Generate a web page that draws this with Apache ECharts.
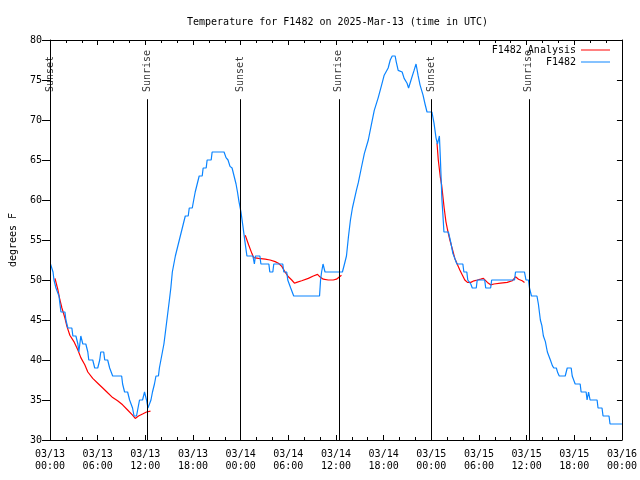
<!DOCTYPE html>
<html>
<head>
<meta charset="utf-8">
<script src="https://cdn.jsdelivr.net/npm/echarts@6/dist/echarts.min.js"></script>
<style>html,body{margin:0;padding:0;background:#fff}#c{width:640px;height:480px}</style>
</head>
<body>
<div id="c"></div>
<script>
// Hours since 2025-03-13 00:00 UTC
const startMonth = '03';
const startDay = 13;
const obsHours = [0.06,0.19,0.38,0.50,0.75,1.00,1.13,1.25,1.38,1.88,2.00,2.25,2.75,2.88,3.26,3.51,3.63,3.88,4.13,4.51,4.76,4.88,5.38,5.63,6.01,6.26,6.39,6.76,6.89,7.26,7.51,7.76,7.89,9.02,9.14,9.39,9.77,10.02,10.27,10.39,10.58,10.89,11.08,11.27,11.65,11.90,12.15,12.33,12.52,12.71,12.90,13.15,13.34,13.65,13.77,13.96,14.15,14.34,14.53,14.78,15.03,15.21,15.40,15.59,15.78,16.03,16.28,16.53,16.78,17.03,17.40,17.53,17.91,18.09,18.28,18.53,18.78,19.16,19.28,19.66,19.78,20.29,20.41,21.91,22.16,22.41,22.66,22.92,23.17,23.42,23.60,23.79,24.04,24.29,24.54,24.79,25.54,25.73,25.86,26.42,26.55,27.55,27.67,28.05,28.17,29.30,29.43,29.80,29.93,30.18,30.30,30.55,30.68,33.93,34.06,34.19,34.37,34.50,34.62,36.81,37.07,37.32,37.57,37.82,38.07,38.32,38.57,38.82,39.19,39.57,40.07,40.45,40.82,41.32,41.70,42.07,42.57,42.83,43.08,43.45,43.58,43.83,44.33,44.58,44.95,45.14,45.45,45.83,46.08,46.33,46.58,46.96,47.21,47.46,48.08,48.34,48.59,48.77,48.90,49.02,49.15,49.34,49.47,49.59,50.15,50.34,50.47,50.72,50.96,51.22,51.97,52.10,52.47,52.59,52.97,53.16,53.66,53.78,54.72,54.85,55.47,55.60,58.48,58.60,59.73,59.92,60.23,60.36,60.61,61.30,61.48,61.73,61.92,62.11,62.36,62.61,62.99,63.24,63.42,63.74,63.92,64.11,64.86,65.11,65.61,65.74,66.11,66.74,66.86,67.49,67.61,67.80,67.99,68.87,68.99,69.49,69.62,70.37,70.50,72.00];
const obsTemps = [52,52,51,50,49,49,48,47,46,46,45,44,44,43,43,42,41,43,42,42,41,40,40,39,39,40,41,41,40,40,39,39,38,38,37,36,36,35,35,34,33,33,34,35,35,36,35,34,34,35,36,37,38,38,39,40,41,42,43.5,45.5,47.5,49,51,52,53,54,55,56,57,58,58,59,59,60,61,62,63,63,64,64,65,65,66,66,65.3,65,64.2,64,63,62,61,59.8,58.5,56.7,54.8,53,53,52,53,53,52,52,51,51,52,52,51,51,50,50,49,49,48,48,50,51,52,52,51,51,52,53,55.4,57.5,59,59,61.2,62.2,64,65.8,67.5,69.4,71.2,72.8,74.2,75.6,76.5,77.5,78,78,77.3,76.2,76,75.2,74.6,74,75,76.2,77,75.6,74.4,73.1,72,71,71,69.6,67.8,67,67.2,68,65,60,58,56,56,55.2,54.6,53.3,52.7,52,52,51,51,50,49.5,49,49,50,50,49,49,50,50,51,51,50,50,49,48,48,47,45,44.3,43,42.3,41,40,39.3,39,39,38.4,38,38,39,39,38,37,37,36,36,35,36,35,35,34,34,33,33,32,32];

// Analysis segments (three nights)
const anaHours1 = [0.63,1.00,1.25,1.50,1.88,2.13,2.50,3.01,3.51,3.88,4.38,4.76,5.38,6.01,6.64,7.26,7.89,8.51,9.14,9.77,10.39,10.73,11.14,11.65,12.15,12.65];
const anaTemps1 = [50.2,48.75,47.5,46.5,45.25,44.2,43.1,42.3,41.25,40.3,39.4,38.5,37.7,37.1,36.5,35.9,35.3,34.9,34.4,33.75,33.1,32.7,33.0,33.25,33.5,33.6];
const anaHours2 = [24.58,25.00,25.42,25.63,26.26,27.09,27.71,28.34,28.76,29.18,29.59,30.01,30.43,30.77,31.05,31.68,32.52,33.15,33.68,33.97,34.40,35.02,35.65,36.06,36.69];
const anaTemps2 = [55.6,54.4,53.3,52.8,52.7,52.6,52.5,52.3,52.1,51.7,51.0,50.4,50.0,49.6,49.7,49.9,50.2,50.5,50.7,50.4,50.1,50.0,50.0,50.1,50.6];
const anaHours3 = [48.72,48.88,49.13,49.30,49.42,49.62,49.84,50.05,50.34,50.68,50.96,51.30,51.59,51.92,52.22,52.55,52.97,53.38,53.81,54.22,54.56,55.06,55.47,55.89,56.72,57.56,58.19,58.60,58.98,59.44,59.73];
const anaTemps3 = [67.1,65,62.9,61.9,60.8,59,57.3,56.25,55,53.75,52.7,51.9,51.25,50.6,50,49.7,49.7,49.9,50,50.1,50.2,49.7,49.4,49.5,49.6,49.7,49.9,50.4,50.1,49.9,49.7];

const eventNames = ['Sunset','Sunrise','Sunset','Sunrise','Sunset','Sunrise'];
const eventHours = [0.06,12.27,23.96,36.35,48.0,60.27];
const eventLineTop = 72.6;
const eventLabelAt = 73.5;

const FONT = 'DejaVu Sans Mono';
const pair = (hs, vs) => hs.map((h, i) => [h, vs[i]]);
const anaData = [].concat(pair(anaHours1, anaTemps1), [[null, null]], pair(anaHours2, anaTemps2), [[null, null]], pair(anaHours3, anaTemps3));
const obsData = pair(obsHours, obsTemps);

function xLabel(h) {
  const d = startDay + Math.floor(h / 24);
  const hh = Math.round(h % 24);
  return startMonth + '/' + String(d).padStart(2, '0') + '\n' + String(hh).padStart(2, '0') + ':00';
}

const chart = echarts.init(document.getElementById('c'), null, {renderer: 'canvas'});
const xBase = {
  type: 'value', min: 0, max: 72, interval: 6,
  axisLine: {show: true, onZero: false, lineStyle: {color: '#000', width: 1}},
  axisTick: {show: true, inside: true, length: 5, lineStyle: {color: '#000'}},
  minorTick: {show: true, splitNumber: 3, length: 3, lineStyle: {color: '#000'}},
  splitLine: {show: false}
};
const yBase = {
  type: 'value', min: 30, max: 80, interval: 5,
  axisLine: {show: true, onZero: false, lineStyle: {color: '#000', width: 1}},
  splitLine: {show: false}
};
chart.setOption({
  animation: false,
  backgroundColor: '#fff',
  title: {
    text: 'Temperature for F1482 on 2025-Mar-13 (time in UTC)',
    left: 182, top: 12,
    textStyle: {fontFamily: FONT, fontSize: 10, fontWeight: 'normal', color: '#000'}
  },
  legend: {
    orient: 'vertical', right: 25, top: 39, align: 'right',
    itemWidth: 29, itemHeight: 1, itemGap: 0, icon: 'rect',
    data: ['F1482 Analysis', 'F1482'],
    textStyle: {fontFamily: FONT, fontSize: 10, color: '#000', lineHeight: 12}
  },
  grid: {left: 47, right: 18, top: 40, bottom: 40, containLabel: false},
  xAxis: [
    Object.assign({}, xBase, {position: 'bottom',
      axisLabel: {show: true, margin: 8, fontFamily: FONT, fontSize: 10, color: '#000', lineHeight: 12, formatter: xLabel}}),
    Object.assign({}, xBase, {position: 'top', axisLabel: {show: false}})
  ],
  yAxis: [
    Object.assign({}, yBase, {position: 'left',
      name: 'degrees F', nameLocation: 'middle', nameRotate: 90, nameGap: 32,
      nameTextStyle: {fontFamily: FONT, fontSize: 10, color: '#000'},
      axisTick: {show: true, inside: false, length: 8, lineStyle: {color: '#000'}},
      axisLabel: {show: true, margin: 8, fontFamily: FONT, fontSize: 10, color: '#000'}}),
    Object.assign({}, yBase, {position: 'right',
      axisTick: {show: true, inside: true, length: 5, lineStyle: {color: '#000'}},
      axisLabel: {show: false}})
  ],
  series: [
    {
      name: 'F1482 Analysis', type: 'line', data: anaData, showSymbol: false, symbol: 'none',
      connectNulls: false, color: '#ff0000', lineStyle: {width: 1.2, color: '#ff0000'}, z: 2
    },
    {
      name: 'F1482', type: 'line', data: obsData, showSymbol: false, symbol: 'none',
      color: '#0a84ff', lineStyle: {width: 1.2, color: '#0a84ff'}, z: 3
    },
    {
      name: 'events', type: 'scatter', symbolSize: 0, z: 4,
      data: eventHours.map((h, i) => ({value: [h, eventLabelAt], name: eventNames[i]})),
      label: {
        show: true, formatter: p => p.name, rotate: 90, position: [-5, 0],
        align: 'left', verticalAlign: 'top',
        fontFamily: FONT, fontSize: 10, color: '#000'
      },
      markLine: {
        silent: true, symbol: ['none', 'none'], label: {show: false},
        lineStyle: {color: '#000', width: 1, type: 'solid'},
        data: eventHours.map(h => [{coord: [h, eventLineTop]}, {coord: [h, 30]}])
      }
    }
  ]
});
</script>
</body>
</html>
